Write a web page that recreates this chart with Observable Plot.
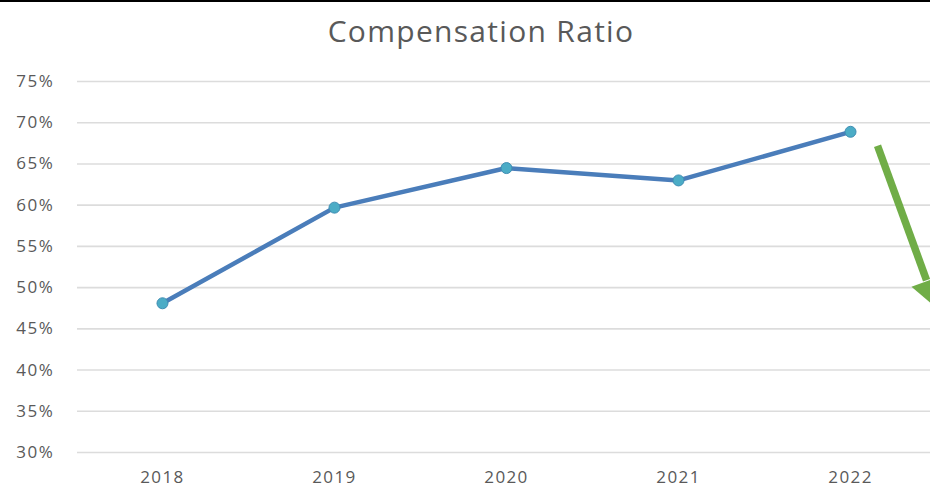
<!DOCTYPE html>
<html>
<head>
<meta charset="utf-8">
<script src="https://cdn.jsdelivr.net/npm/d3@7"></script>
<script src="https://cdn.jsdelivr.net/npm/@observablehq/plot@0.6"></script>
<style>
  html, body { margin: 0; padding: 0; background: #fff; }
  #wrap { position: relative; width: 930px; height: 488px; overflow: hidden; }
  #topline { position: absolute; left: 0; top: 0; width: 930px; height: 2px; background: #000; }
  svg { display: block; }
  .ylab text { letter-spacing: 1.6px; }
  .xlab text { letter-spacing: 1.4px; }
  .ttl text { letter-spacing: 1.3px; }
</style>
</head>
<body>
<div id="wrap"><div id="topline"></div></div>
<script>
const title = "Compensation Ratio";
const years = [2018, 2019, 2020, 2021, 2022];
const ratio = [48.1, 59.7, 64.5, 63.0, 68.9];
const yTicks = [30, 35, 40, 45, 50, 55, 60, 65, 70, 75];

// green annotation arrow (in data units)
const arrowStart = {x: 2022.157, y: 67.2};
const arrowBase = {x: 2022.442, y: 50.9};
const arrowHead = {x: 2022.461, y: 49.7};

const data = years.map((y, i) => ({year: y, value: ratio[i]}));

const chart = Plot.plot({
  width: 930,
  height: 488,
  marginTop: 81,
  marginBottom: 36,
  marginLeft: 77,
  marginRight: 0,
  style: {fontFamily: "'Open Sans', sans-serif", fontSize: "17px", color: "#595959", background: "#fff", overflow: "visible"},
  x: {domain: [2017.506, 2022.465], ticks: years, tickFormat: d => String(d), label: null},
  y: {domain: [30, 75], ticks: yTicks, tickFormat: d => d + "%", label: null},
  marks: [
    Plot.gridY(yTicks, {stroke: "#dcdcdc", strokeOpacity: 1, strokeWidth: 1.6}),
    Plot.axisY(yTicks, {tickSize: 0, tickPadding: 23, tickFormat: d => d + "%", fill: "#595959", fontSize: 17, className: "ylab"}),
    Plot.axisX(years, {tickSize: 0, tickPadding: 18, tickFormat: d => String(d), fill: "#595959", fontSize: 17, className: "xlab"}),
    Plot.line(data, {x: "year", y: "value", stroke: "#4a7dba", strokeWidth: 4.5, strokeLinejoin: "round", strokeLinecap: "round"}),
    Plot.dot(data, {x: "year", y: "value", r: 5.5, fill: "#4bacc6", stroke: "#3f8db3", strokeWidth: 1}),
    Plot.text([title], {frameAnchor: "top", lineAnchor: "middle", dy: -49, dx: -23, fontSize: 30, fill: "#595959", className: "ttl"}),
    Plot.link([0], {x1: () => arrowStart.x, y1: () => arrowStart.y, x2: () => arrowBase.x, y2: () => arrowBase.y, stroke: "#70ad47", strokeWidth: 7.5, clip: false}),
    Plot.dot([0], {x: () => arrowHead.x, y: () => arrowHead.y, symbol: "triangle", r: 12, rotate: 160.5, fill: "#70ad47", stroke: "none", clip: false})
  ]
});
document.getElementById("wrap").appendChild(chart);
</script>
</body>
</html>
